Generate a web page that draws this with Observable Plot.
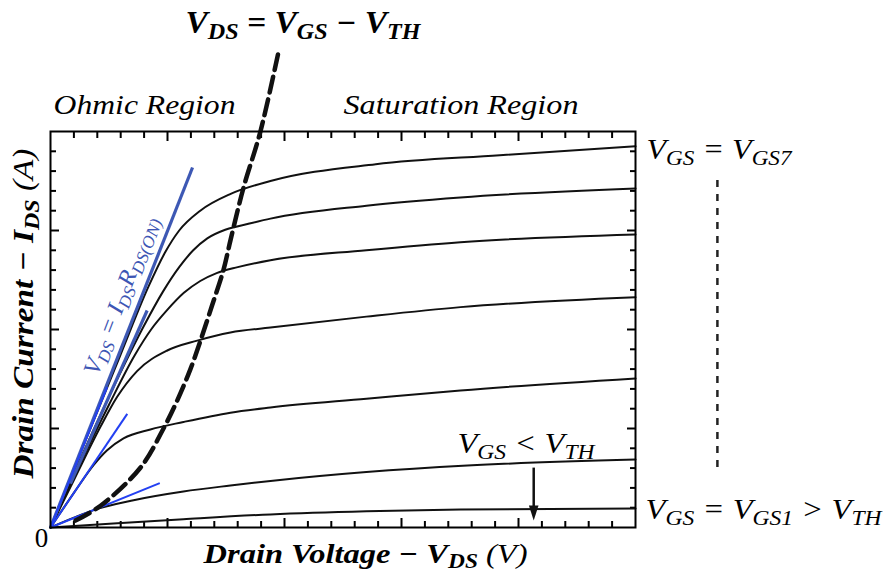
<!DOCTYPE html>
<html><head><meta charset="utf-8">
<script src="https://cdn.jsdelivr.net/npm/d3@7"></script>
<script src="https://cdn.jsdelivr.net/npm/@observablehq/plot@0.6"></script>
<style>
html,body{margin:0;padding:0;background:#fff}
#chart svg text, #chart svg tspan { font-family: "Liberation Serif", "Times New Roman", serif !important; }
</style>
</head><body><div id="chart"></div>
<script>
// Output characteristics: drain voltage (x, arbitrary units 0..25) vs drain current (y, 0..20)
const curve1 = [[0,0],[2.86,0.22],[5.68,0.42],[9.4,0.66],[13.5,0.82],[17.52,0.91],[25,0.96]];
const curve2 = [[0,0],[1.0,0.5],[1.84,0.88],[3.55,1.38],[5.68,1.82],[7.69,2.12],[9.4,2.35],[13.5,2.8],[17.82,3.13],[25,3.43]];
const curve3 = [[0,0],[1.0,1.75],[1.84,3.15],[2.42,3.9],[3.12,4.5],[4.27,4.95],[5.68,5.33],[7.69,5.8],[9.4,6.06],[13.5,6.5],[17.52,6.92],[25,7.53]];
const curve4 = [[0,0],[1.0,2.4],[2.14,5.1],[2.85,6.6],[3.7,7.9],[4.99,8.94],[6.27,9.44],[7.69,9.85],[9.4,10.1],[13.5,10.65],[17.52,11.13],[25,11.63]];
const curve5 = [[0,0],[1.0,2.55],[2.5,6.2],[3.6,8.7],[4.3,10.0],[5.0,11.0],[5.7,11.85],[6.4,12.45],[7.1,12.85],[8.0,13.15],[9.4,13.5],[13.5,14.0],[17.52,14.41],[25,14.8]];
const curve6 = [[0,0],[1.5,4.05],[3.0,7.85],[4.0,10.2],[4.8,11.9],[5.5,13.15],[6.1,14.0],[6.7,14.6],[7.5,15.05],[8.5,15.35],[9.4,15.6],[13.5,16.25],[17.52,16.67],[25,17.12]];
const curve7 = [[0,0],[1.5,4.4],[3.0,8.75],[4.2,12.2],[4.9,13.9],[5.5,15.0],[6.4,16.0],[7.7,16.85],[9.4,17.5],[13.9,18.35],[19.2,18.8],[25,19.25]];
const curves = [curve1, curve2, curve3, curve4, curve5, curve6, curve7];

// V_DS = V_GS - V_TH boundary (pinch-off locus)
const pinchOff = [[1.07,0.35],[2.14,1.1],[3.85,3.03],[4.83,5.0],[5.41,6.4],[5.98,8.0],[6.41,9.44],[6.9,11.2],[7.39,13.0],[7.69,14.5],[8.25,17.17],[8.97,20.0],[9.74,24.0]];

// R_DS(ON) tangent lines from the origin
const tangentsDark = [[[0,0],[6.07,18.18]], [[0.85,2.22],[4.13,10.96]]];
const tangentsBright = [[[0,0],[2.42,7.09]], [[0,0],[3.28,5.74]], [[0,0],[4.67,2.24]]];

// arrow from V_GS < V_TH label down to curve 1, and dashed "..." on the right
const arrowX = [20.65];
const arrowShaft = [3.0, 0.9];
const arrowTip = [0.35];
const ellipsisX = [28.5];
const ellipsisSpan = [17.53, 2.73];

// ticks
const xMinor = [1,2,3,4,6,7,8,9,11,12,13,14,16,17,18,19,21,22,23,24];
const xMajor = [5,10,15,20];
const yMinor = [1,2,3,4,6,7,8,9,11,12,13,14,16,17,18,19];
const yMajor = [5,10,15];

// texts
const labelTexts = [
  "V_{DS} = V_{GS} − V_{TH}",
  "Ohmic Region",
  "Saturation Region",
  "V_{GS} = V_{GS7}",
  "V_{GS} = V_{GS1} > V_{TH}",
  "V_{GS} < V_{TH}",
  "Drain Voltage − V_{DS} ~{(V)}",
  "Drain Current − I_{DS} ~{(A)}",
  "V_{DS} = I_{DS}R_{DS(ON)}",
  "0"
];
const fitWidths = [235, 182, 235, 145, 236, 137, 324, 330, 168, null];

const lineData = curves.flatMap((c, i) => c.map(([x, y]) => ({x, y, curve: "VGS" + (i + 1)})));
const pinchData = pinchOff.map(([x, y]) => ({x, y}));
const segs = (arr) => arr.map(([[x1, y1], [x2, y2]]) => ({x1, y1, x2, y2}));

const arrowHead = {
  draw(ctx) { ctx.moveTo(0, 0); ctx.lineTo(-4.8, -15); ctx.lineTo(4.8, -15); ctx.closePath(); }
};

const F = "Liberation Serif";
const lbl = (i, opts) => Plot.text([labelTexts[i]], {text: d => d, fontFamily: F, fill: "black", lineAnchor: "bottom", textAnchor: "start", ...opts});

const axisOpts = {strokeWidth: 2, tickFormat: () => "", label: null, tickPadding: 0};

const plot = Plot.plot({
  width: 883, height: 573,
  marginLeft: 50, marginRight: 248, marginTop: 131, marginBottom: 46,
  x: {domain: [0, 25], label: null},
  y: {domain: [0, 20], label: null},
  style: {background: "white", overflow: "visible"},
  marks: [
    Plot.axisX({...axisOpts, ticks: xMinor, anchor: "bottom", tickSize: -6}),
    Plot.axisX({...axisOpts, ticks: xMajor, anchor: "bottom", tickSize: -9}),
    Plot.axisX({...axisOpts, ticks: xMinor, anchor: "top", tickSize: -6}),
    Plot.axisX({...axisOpts, ticks: xMajor, anchor: "top", tickSize: -9}),
    Plot.axisY({...axisOpts, ticks: yMinor, anchor: "left", tickSize: -6}),
    Plot.axisY({...axisOpts, ticks: yMajor, anchor: "left", tickSize: -9}),
    Plot.axisY({...axisOpts, ticks: yMinor, anchor: "right", tickSize: -6}),
    Plot.axisY({...axisOpts, ticks: yMajor, anchor: "right", tickSize: -9}),

    Plot.line(lineData, {x: "x", y: "y", z: "curve", stroke: "#111", strokeWidth: 2, curve: "monotone-x"}),

    Plot.link(segs(tangentsDark), {x1: "x1", y1: "y1", x2: "x2", y2: "y2", stroke: "#3d58b4", strokeWidth: 3.2}),
    Plot.link(segs(tangentsBright), {x1: "x1", y1: "y1", x2: "x2", y2: "y2", stroke: "#2340f2", strokeWidth: 2}),

    Plot.line(pinchData, {x: "x", y: "y", stroke: "#111", strokeWidth: 4.5, strokeDasharray: "16,7", curve: "catmull-rom"}),

    Plot.ruleX(arrowX, {y1: arrowShaft[0], y2: arrowShaft[1], stroke: "#111", strokeWidth: 2.5}),
    Plot.dot(arrowX, {x: d => d, y: arrowTip[0], symbol: arrowHead, fill: "#111", stroke: null, r: 5}),
    Plot.ruleX(ellipsisX, {y1: ellipsisSpan[0], y2: ellipsisSpan[1], stroke: "#222", strokeWidth: 2.5, strokeDasharray: "7,7"}),

    Plot.frame({stroke: "black", strokeWidth: 2}),

    lbl(0, {x: 5.77, y: 25.0, fontSize: 31, fontStyle: "italic", fontWeight: "bold"}),
    lbl(1, {x: 0.13, y: 20.86, fontSize: 28, fontStyle: "italic"}),
    lbl(2, {x: 12.52, y: 20.86, fontSize: 28, fontStyle: "italic"}),
    lbl(3, {x: 25.47, y: 18.59, fontSize: 30, fontStyle: "italic"}),
    lbl(4, {x: 25.43, y: 0.45, fontSize: 30, fontStyle: "italic"}),
    lbl(5, {x: 17.39, y: 3.74, fontSize: 30, fontStyle: "italic"}),
    lbl(6, {x: 6.54, y: -1.77, fontSize: 28, fontStyle: "italic", fontWeight: "bold"}),
    lbl(7, {x: -0.73, y: 2.47, fontSize: 29, fontStyle: "italic", fontWeight: "bold", rotate: -90}),
    lbl(8, {x: 3.0, y: 11.72, fontSize: 24, fontStyle: "italic", fill: "#3d56b4", rotate: -69, textAnchor: "middle", lineAnchor: "middle"}),
    lbl(9, {x: -0.38, y: -0.96, fontSize: 27, textAnchor: "middle"})
  ]
});

document.getElementById("chart").appendChild(plot);

// turn _{..} into subscripts and ~{..} into normal-weight runs
const NS = "http://www.w3.org/2000/svg";
plot.querySelectorAll("text").forEach(el => {
  const src = el.textContent;
  const idx = labelTexts.indexOf(src);
  if (idx < 0) return;
  el.setAttribute("font-family", "Liberation Serif");
  const fs = parseFloat(getComputedStyle(el).fontSize) || 16;
  if (/[_~]\{/.test(src)) {
    const parts = src.split(/(_\{[^}]*\}|~\{[^}]*\})/).filter(p => p.length);
    while (el.firstChild) el.removeChild(el.firstChild);
    let lowered = false;
    for (const p of parts) {
      const t = document.createElementNS(NS, "tspan");
      if (p.startsWith("_{")) {
        t.textContent = p.slice(2, -1);
        t.setAttribute("font-size", (0.72 * fs).toFixed(2));
        if (!lowered) { t.setAttribute("dy", (0.2 * fs).toFixed(2)); lowered = true; }
      } else {
        t.textContent = p.startsWith("~{") ? p.slice(2, -1) : p;
        if (p.startsWith("~{")) t.setAttribute("font-weight", "normal");
        if (lowered) { t.setAttribute("dy", (-0.2 * fs).toFixed(2)); lowered = false; }
      }
      el.appendChild(t);
    }
  }
  if (fitWidths[idx]) {
    el.setAttribute("textLength", fitWidths[idx]);
    el.setAttribute("lengthAdjust", "spacingAndGlyphs");
  }
});
</script>
</body></html>
